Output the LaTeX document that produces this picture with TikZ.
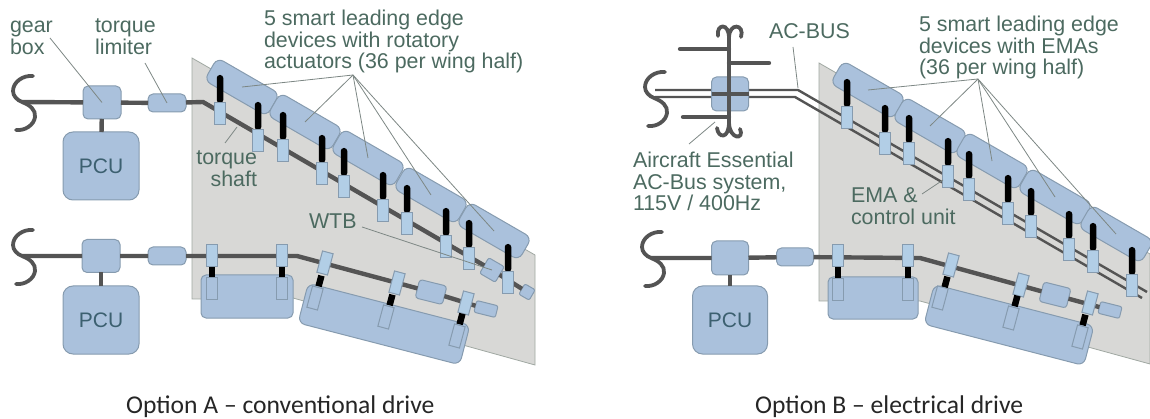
\documentclass[tikz,border=0pt]{standalone}
\usepackage{fontspec}
\setmainfont{Liberation Sans}
\newfontfamily\capfont{Carlito}
\usepackage{tikz}
\usetikzlibrary{calc}
\definecolor{devblue}  {RGB}{170, 193, 220}
\definecolor{devedge}  {RGB}{134, 155, 175}
\definecolor{boxblue}  {RGB}{178, 206, 230}
\definecolor{panelclr} {RGB}{216, 216, 214}
\definecolor{paneledge}{RGB}{160, 168, 162}
\definecolor{shaftclr} {RGB}{84,  84,  84}
\definecolor{labelclr} {RGB}{76, 106,  96}
\definecolor{pcutext}  {RGB}{60,  96, 112}
\definecolor{leadclr}  {RGB}{125, 135, 132}
\tikzset{
  devbox/.style={draw=devedge, fill=devblue, line width=1pt, rounded corners=5pt, inner sep=0pt, outer sep=0pt},
  slatbox/.style={devbox, rotate=-30, rounded corners=7pt, minimum width=72pt, minimum height=26pt},
  actbox/.style={draw=devedge, fill=boxblue, line width=1pt, inner sep=0pt, outer sep=0pt, minimum width=11pt, minimum height=22pt},
  flapbox/.style={actbox, fill=devblue},
  rodbar/.style={fill=black, rounded corners=3pt, inner sep=0pt, outer sep=0pt, minimum width=6.5pt, minimum height=28pt},
  linkbar/.style={fill=black, inner sep=0pt, outer sep=0pt, minimum width=6.5pt, minimum height=11pt},
  panel/.style={draw=paneledge, fill=panelclr, line width=0.8pt},
  shaftline/.style={draw=shaftclr, line width=4.4pt},
  wireline/.style={draw=shaftclr, line width=2.4pt},
  leadline/.style={draw=leadclr, line width=0.8pt},
  lbl/.style={text=labelclr, inner sep=0pt, outer sep=0pt, anchor=north west, align=left, font=\fontsize{21.4}{21.5}\selectfont},
  caplbl/.style={text=black!85, inner sep=0pt, anchor=base west, font=\capfont\fontsize{25.6}{27}\selectfont},
  wormhook/.pic={
    \draw[shaftclr, line width=3.8pt, line cap=round]
      (11,-26) .. controls (1,-27) and (-9,-20) .. (-9,-11)
      .. controls (-9,-6) and (-5,-2) .. (0,0)
      .. controls (8,3) and (14,8) .. (13,15)
      .. controls (12,23) and (3,29) .. (-6,28);
  }
}
\newcommand{\pcutext}{\fontsize{21}{21}\selectfont\textcolor{pcutext}{PCU}}
\begin{document}
\begin{tikzpicture}[x=1pt, y=-1pt]
  \useasboundingbox (0,0) rectangle (1150,419);
  % wing panels
  \draw[panel] (192,58) -- (535,255) -- (535,365) -- (293,298) -- (192,299) -- cycle;
  \draw[panel] (819,63) -- (1150,254) -- (1150,364) -- (920,301) -- (819,301) -- cycle;

  % ---- option A, upper drive line
  \pic at (22,102) {wormhook};
  \coordinate (hookAu) at (22,102);
  \coordinate (bendAu) at (203,102);
  \node[devbox, minimum width=38pt, minimum height=33pt] (gearAu) at (102,102.5) {};
  \node[devbox, minimum width=38pt, minimum height=18pt] (limitAu) at (167,103) {};
  \node[devbox, rounded corners=10pt, minimum width=76pt, minimum height=68pt] (pcuAu) at (101,166) {\pcutext};
  \node[devbox, rounded corners=2pt, rotate=-30, minimum width=18pt, minimum height=18pt] (wtbAu) at (492,270) {};
  \node[devbox, rounded corners=2pt, rotate=-30, minimum width=12pt, minimum height=12pt] (tipAu) at (527,292) {};
  \draw[shaftline] (hookAu) -- (gearAu) (gearAu) -- (limitAu) (limitAu) -- (bendAu) -- (wtbAu) -- (tipAu);
  \draw[shaftline] (gearAu) -- (pcuAu);
  \foreach \i/\x/\y in {1/242/87, 2/305/122, 3/368/158, 4/431/195, 5/494/231}
    \node[slatbox] (slatA\i) at (\x,\y) {};
  \foreach \i/\x/\t in {1/220/75, 2/258/102, 3/283/112, 4/322/135, 5/344/148, 6/383/172, 7/407/185, 8/446/208, 9/469/220, 10/508/244} {
    \node[rodbar, anchor=north] (rodA\i) at (\x,\t) {};
    \node[actbox, anchor=north] (actA\i) at (rodA\i.south) {};
  }

  % ---- option A, lower drive line
  \pic at (22,256) {wormhook};
  \coordinate (hookAl) at (22,256);
  \coordinate (bendAl) at (297,256);
  \node[devbox, minimum width=38pt, minimum height=33pt] (gearAl) at (101,256) {};
  \node[devbox, minimum width=38pt, minimum height=18pt] (limitAl) at (167,256) {};
  \node[devbox, rounded corners=10pt, minimum width=76pt, minimum height=68pt] (pcuAl) at (101,320) {\pcutext};
  \node[devbox, rounded corners=3pt, rotate=-14, minimum width=28pt, minimum height=19pt] (wtbAl) at (431,292) {};
  \node[devbox, rounded corners=2pt, rotate=-14, minimum width=22pt, minimum height=12pt] (tipAl) at (486,309) {};
  \draw[shaftline] (hookAl) -- (gearAl) (gearAl) -- (limitAl) (limitAl) -- (bendAl) -- (wtbAl) -- (tipAl);
  \draw[shaftline] (gearAl) -- (pcuAl);
  \node[devbox, minimum width=92pt, minimum height=43pt] (flapA1) at (247,296.5) {};
  \node[devbox, rounded corners=7pt, rotate=-14.5, minimum width=167pt, minimum height=41pt] (flapA2) at (384,324) {};
  \foreach \i/\x in {1/212, 2/282} {
    \node[actbox] (upA\i) at (\x,255.5) {};
    \node[linkbar] (linkA\i) at (\x,272.5) {};
    \node[flapbox] (loA\i) at (\x,289) {};
  }
  \foreach \i/\ux/\uy/\mx/\my/\lx/\ly in {3/325/263/320/281/315/298, 4/397/283/391/300/386/317, 5/466/303/461/319/457/336} {
    \node[actbox, rotate=-15] (upA\i) at (\ux,\uy) {};
    \node[linkbar, rotate=-15] (linkA\i) at (\mx,\my) {};
    \node[flapbox, rotate=-15] (loA\i) at (\lx,\ly) {};
  }

  % ---- option B, AC bus
  \coordinate (wireBa) at (655,90);
  \coordinate (wireBb) at (798,90);
  \coordinate (wireBc) at (1147,292);
  \coordinate (wireBd) at (655,97);
  \coordinate (wireBe) at (795,97);
  \coordinate (wireBf) at (1142,298);
  \draw[wireline] (wireBa) -- (wireBb) -- (wireBc);
  \draw[wireline] (wireBd) -- (wireBe) -- (wireBf);
  \pic at (654,98) {wormhook};
  \node[devbox, minimum width=37pt, minimum height=34pt] (hubB) at (730,94) {};
  \draw[shaftline] (hubB.west) -- (hubB.east);
  \coordinate (busBt) at (729,37);
  \coordinate (busBb) at (729,125);
  \draw[shaftline] (busBt) -- (busBb);
  \coordinate (stubBa) at (680,49);
  \coordinate (stubBb) at (769,63);
  \coordinate (stubBc) at (683,117);
  \draw[shaftline, line cap=round] (stubBa) -- (stubBa -| busBt);
  \draw[shaftline, line cap=round] (stubBb) -- (stubBb -| busBt);
  \draw[shaftline, line cap=round] (stubBc) -- (stubBc -| busBt);
  \draw[shaftclr, line width=3.8pt, line cap=round]
    (718,36) .. controls (716,24) and (729,22) .. (729,38)
    .. controls (729,22) and (745,24) .. (741,37);
  \draw[shaftclr, line width=3.8pt, line cap=round]
    (717,128) .. controls (718,138) and (729,140) .. (729,122)
    .. controls (729,140) and (745,140) .. (740,129);
  \foreach \i/\x/\y in {1/868/90, 2/930/126, 3/992/161, 4/1055/197, 5/1116/234}
    \node[slatbox] (slatB\i) at (\x,\y) {};
  \foreach \i/\x/\t in {1/847/79, 2/885/105, 3/909/115, 4/948/138, 5/969/151, 6/1008/175, 7/1031/188, 8/1069/211, 9/1093/223, 10/1132/247} {
    \node[rodbar, anchor=north] (rodB\i) at (\x,\t) {};
    \node[actbox, anchor=north] (actB\i) at (rodB\i.south) {};
  }

  % ---- option B, lower drive line
  \pic at (651,258) {wormhook};
  \coordinate (hookBl) at (651,258);
  \coordinate (bendBl) at (920,258);
  \node[devbox, minimum width=37pt, minimum height=34pt] (gearBl) at (730,258) {};
  \node[devbox, minimum width=37pt, minimum height=18pt] (limitBl) at (795,257) {};
  \node[devbox, rounded corners=10pt, minimum width=75pt, minimum height=68pt] (pcuBl) at (730,320) {\pcutext};
  \node[devbox, rounded corners=3pt, rotate=-14, minimum width=28pt, minimum height=20pt] (wtbBl) at (1055,295) {};
  \node[devbox, rounded corners=2pt, rotate=-14, minimum width=22pt, minimum height=12pt] (tipBl) at (1110,310) {};
  \draw[shaftline] (hookBl) -- (gearBl) (gearBl) -- (limitBl) (limitBl) -- (bendBl) -- (wtbBl) -- (tipBl);
  \draw[shaftline] (gearBl) -- (pcuBl);
  \node[devbox, minimum width=90pt, minimum height=42pt] (flapB1) at (873,298) {};
  \node[devbox, rounded corners=7pt, rotate=-14.5, minimum width=165pt, minimum height=41pt] (flapB2) at (1009,325) {};
  \foreach \i/\x in {1/838, 2/908} {
    \node[actbox] (upB\i) at (\x,256) {};
    \node[linkbar] (linkB\i) at (\x,273) {};
    \node[flapbox] (loB\i) at (\x,290) {};
  }
  \foreach \i/\ux/\uy/\mx/\my/\lx/\ly in {3/951/265/946/282/940/298, 4/1021/285/1016/301/1011/318, 5/1090/303/1084/320/1080/337} {
    \node[actbox, rotate=-15] (upB\i) at (\ux,\uy) {};
    \node[linkbar, rotate=-15] (linkB\i) at (\mx,\my) {};
    \node[flapbox, rotate=-15] (loB\i) at (\lx,\ly) {};
  }

  % labels
  \node[lbl] (lblgear) at (10,17) {\vphantom{l}gear\\box};
  \node[lbl] (lbllimit) at (95,17) {\vphantom{l}torque\\limiter};
  \node[lbl] (lbldevA) at (264,10) {5 smart leading edge\\devices with rotatory\\actuators (36 per wing half)};
  \node[lbl, anchor=north east, align=right] (lblshaft) at (257,149) {\vphantom{l}torque\\shaft};
  \node[lbl] (lblwtb) at (309,214) {WTB};
  \node[lbl] (lblbus) at (769,24) {AC-BUS};
  \node[lbl] (lblsys) at (633,152) {Aircraft Essential\\AC-Bus system,\\115V / 400Hz};
  \node[lbl] (lblema) at (851,188) {EMA \&\\control unit};
  \node[lbl] (lbldevB) at (919,16) {5 smart leading edge\\devices with EMAs\\(36 per wing half)};
  \node[caplbl] (capA) at (126,413) {Option A – conventional drive};
  \node[caplbl] (capB) at (755,413) {Option B – electrical drive};

  % leader lines
  \coordinate (leadgear) at (50,38);
  \coordinate (leadlimit) at (145,63);
  \coordinate (leadshaftA) at (225,143);
  \coordinate (leadshaftB) at (237,127);
  \coordinate (apexA) at (353,75);
  \coordinate (leadwtb) at (362,227);
  \coordinate (leadbus) at (793,47);
  \coordinate (leadbusB) at (798,88);
  \coordinate (leadsysA) at (689,144);
  \coordinate (leadsysB) at (715,122);
  \coordinate (leademaA) at (922,194);
  \coordinate (leademaB) at (943,180);
  \coordinate (apexB) at (978,79);
  \draw[leadline] (leadgear) -- (gearAu.center);
  \draw[leadline] (leadlimit) -- (limitAu.center);
  \draw[leadline] (leadshaftA) -- (leadshaftB);
  \draw[leadline] (leadwtb) -- (wtbAu.center);
  \draw[leadline] (leadbus) -- (leadbusB);
  \draw[leadline] (leadsysA) -- (leadsysB);
  \draw[leadline] (leademaA) -- (leademaB);
  \foreach \i in {1,...,5} {
    \draw[leadline] (apexA) -- (slatA\i.center);
    \draw[leadline] (apexB) -- (slatB\i.center);
  }
\end{tikzpicture}
\end{document}
